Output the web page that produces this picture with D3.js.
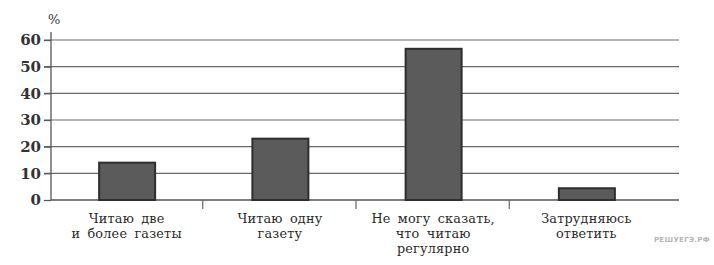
<!DOCTYPE html>
<html><head><meta charset="utf-8">
<script src="https://cdn.jsdelivr.net/npm/d3@7"></script>
<style>body{margin:0;background:#fff}</style>
</head><body>
<svg id="c" width="714" height="265"></svg>
<script>
const categories = [
  ["Читаю две", "и более газеты"],
  ["Читаю одну", "газету"],
  ["Не могу сказать,", "что читаю", "регулярно"],
  ["Затрудняюсь", "ответить"]
];
const values = [14, 23, 56.7, 4.4];
const yTicks = [0, 10, 20, 30, 40, 50, 60];
const yUnit = "%";
const watermark = "РЕШУЕГЭ.РФ";

const svg = d3.select("#c");
const x0 = 51, x1 = 664, gridEnd = 679, yTop = 40, yBot = 200;
const x = d3.scaleBand().domain(d3.range(categories.length)).range([x0, x1]).paddingInner(0).paddingOuter(0);
const y = d3.scaleLinear().domain([0, 60]).range([yBot, yTop]);
const serif = "'DejaVu Serif', serif";

// gridlines
svg.append("g").selectAll("line").data(yTicks.filter(d => d > 0)).join("line")
  .attr("x1", x0 - 7).attr("x2", gridEnd)
  .attr("y1", d => y(d)).attr("y2", d => y(d))
  .attr("stroke", "#6a6a6a").attr("stroke-width", 1.2);

// y axis
const ya = d3.axisLeft(y).tickValues(yTicks).tickSize(7).tickPadding(3).tickFormat(d3.format("d"));
const gy = svg.append("g").attr("transform", `translate(${x0},0)`).call(ya);
gy.select(".domain").remove();
gy.selectAll(".tick line").attr("stroke", "#555").attr("stroke-width", 1.2);
gy.selectAll(".tick text").attr("font-family", serif).attr("font-size", 15).attr("font-weight", "bold").attr("fill", "#333");
svg.append("line").attr("x1", x0).attr("x2", x0).attr("y1", 32).attr("y2", yBot)
  .attr("stroke", "#555").attr("stroke-width", 1.3);

// x axis baseline
svg.append("line").attr("x1", x0).attr("x2", gridEnd).attr("y1", yBot).attr("y2", yBot)
  .attr("stroke", "#555").attr("stroke-width", 1.3);
// category separators
svg.append("g").selectAll("line").data(d3.range(1, categories.length)).join("line")
  .attr("x1", d => x(d) - 1.5).attr("x2", d => x(d) - 1.5).attr("y1", yBot).attr("y2", yBot + 9)
  .attr("stroke", "#666").attr("stroke-width", 1.2);

// bars
const bw = 56;
svg.append("g").selectAll("rect").data(values).join("rect")
  .attr("x", (d, i) => x(i) + x.bandwidth() / 2 - bw / 2 - 0.5)
  .attr("y", d => y(d))
  .attr("width", bw)
  .attr("height", d => yBot - y(d))
  .attr("fill", "#5b5b5b").attr("stroke", "#2e2e2e").attr("stroke-width", 2);

// category labels (one text per line)
const lines = categories.flatMap((ls, i) => ls.map((t, j) => ({t, i, j})));
svg.append("g").selectAll("text").data(lines).join("text")
  .attr("text-anchor", "middle").attr("font-family", serif).attr("font-size", 12.8).attr("fill", "#2a2a2a")
  .attr("word-spacing", 3).attr("letter-spacing", 0.2)
  .attr("x", d => x(d.i) + x.bandwidth() / 2 - 1)
  .attr("y", d => 223 + d.j * 14.8)
  .text(d => d.t);

// unit
svg.append("text").attr("x", 48).attr("y", 24).attr("font-family", serif).attr("font-size", 13).attr("fill", "#333").text(yUnit);

// watermark
svg.append("text").attr("x", 710).attr("y", 242).attr("text-anchor", "end")
  .attr("font-family", "'DejaVu Sans', sans-serif").attr("font-size", 7).attr("font-weight", "bold")
  .attr("letter-spacing", 0.3).attr("fill", "#b5b5b5").text(watermark);
</script>
</body></html>
